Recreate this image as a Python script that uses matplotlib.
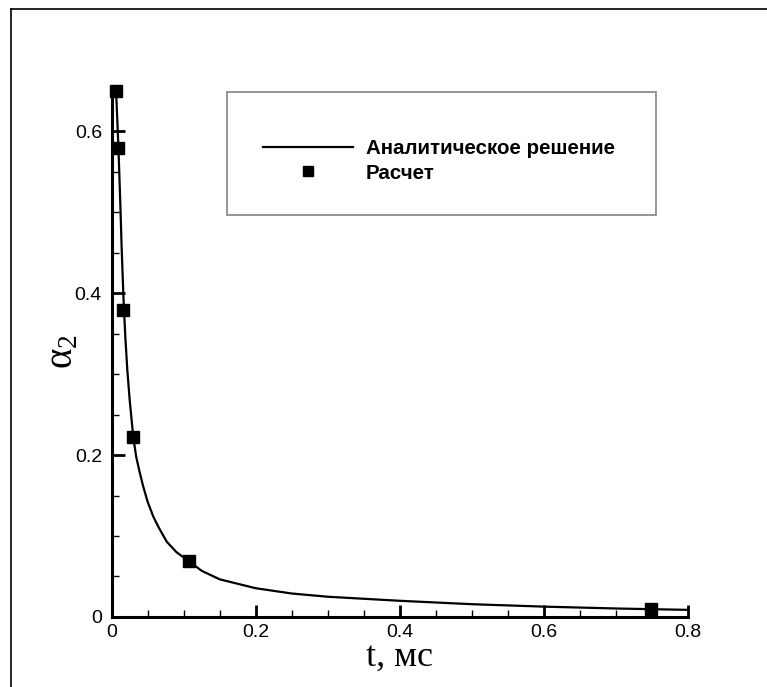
import matplotlib
matplotlib.use("Agg")
from matplotlib import pyplot as plt
from matplotlib.ticker import MultipleLocator, FixedLocator, FuncFormatter
from matplotlib.patches import Rectangle
from matplotlib.lines import Line2D

# analytic solution
t_curve = [0.006, 0.0075, 0.0094, 0.0107, 0.012, 0.0137, 0.0153, 0.0168, 0.019,
           0.0217, 0.025, 0.030, 0.034, 0.0383, 0.0435, 0.05, 0.0578, 0.065,
           0.0764, 0.09, 0.107, 0.125, 0.15, 0.2, 0.25, 0.3, 0.4, 0.5, 0.6, 0.7, 0.8]
a_curve = [0.652, 0.62, 0.579, 0.545, 0.51, 0.46, 0.42, 0.385, 0.345,
           0.305, 0.268, 0.222, 0.198, 0.181, 0.162, 0.142, 0.124, 0.111,
           0.093, 0.080, 0.069, 0.057, 0.0465, 0.0355, 0.029, 0.025, 0.020,
           0.0158, 0.0128, 0.0105, 0.0088]

# computed points
t_calc = [0.0060, 0.0083, 0.0155, 0.030, 0.107, 0.749]
a_calc = [0.649, 0.579, 0.379, 0.222, 0.069, 0.0099]

x_ticks = [0, 0.2, 0.4, 0.6, 0.8]
y_ticks = [0, 0.2, 0.4, 0.6]

label_curve = "Аналитическое решение"
label_calc = "Расчет"

plt.rcParams["font.family"] = ["Liberation Sans", "DejaVu Sans"]
plt.rcParams["mathtext.fontset"] = "custom"
plt.rcParams["mathtext.rm"] = "Liberation Serif"
plt.rcParams["mathtext.it"] = "Liberation Serif"

fig = plt.figure(figsize=(7.67, 6.87), dpi=100)
ax = fig.add_axes([0.1456, 0.1019, 0.7514, 0.7722])

line, = ax.plot(t_curve, a_curve, color="black", linewidth=1.6, label=label_curve)
pts, = ax.plot(t_calc, a_calc, linestyle="none", marker="s", markersize=8,
               color="black", label=label_calc, clip_on=False, zorder=5)

ax.set_xlim(0, 0.8)
ax.set_ylim(0, 0.655)

for side in ["top", "right"]:
    ax.spines[side].set_visible(False)
for side in ["left", "bottom"]:
    ax.spines[side].set_linewidth(2.2)

ax.xaxis.set_major_locator(FixedLocator(x_ticks))
ax.yaxis.set_major_locator(FixedLocator(y_ticks))
ax.xaxis.set_minor_locator(MultipleLocator(0.05))
ax.yaxis.set_minor_locator(MultipleLocator(0.05))
fmt = FuncFormatter(lambda v, p: "0" if abs(v) < 1e-9 else "%.1f" % v)
ax.xaxis.set_major_formatter(fmt)
ax.yaxis.set_major_formatter(fmt)

ax.tick_params(which="major", direction="in", length=9, width=2, labelsize=14)
ax.tick_params(which="minor", direction="in", length=5, width=1)
ax.tick_params(axis="x", which="major", pad=5)
ax.tick_params(axis="y", which="major", pad=7)

ax.set_xlabel("t, мс", family="Liberation Serif", fontsize=26, labelpad=0)
ax.set_ylabel(r"$\alpha_2$", fontsize=28, labelpad=-4)

# legend box
fig.patches.append(Rectangle((0.296, 0.687), 0.559, 0.179, transform=fig.transFigure,
                             fill=False, edgecolor="#8c8c8c", linewidth=1.3))
leg = ax.legend(handles=[line, pts], loc="center left",
                bbox_to_anchor=(263 / 767, 1 - 161 / 687), bbox_transform=fig.transFigure,
                frameon=False, borderpad=0, borderaxespad=0, handlelength=4.4,
                handletextpad=0.6, labelspacing=0.25, markerscale=0.85,
                prop={"family": "Liberation Sans", "weight": "bold", "size": 14.8})

# outer frame (top and left edges)
fig.lines.append(Line2D([0.0143, 0.0143], [0, 0.987], transform=fig.transFigure,
                        color="black", linewidth=1.2))
fig.lines.append(Line2D([0.0143, 1], [0.987, 0.987], transform=fig.transFigure,
                        color="black", linewidth=1.2))

fig.savefig("out.png", dpi=100)
